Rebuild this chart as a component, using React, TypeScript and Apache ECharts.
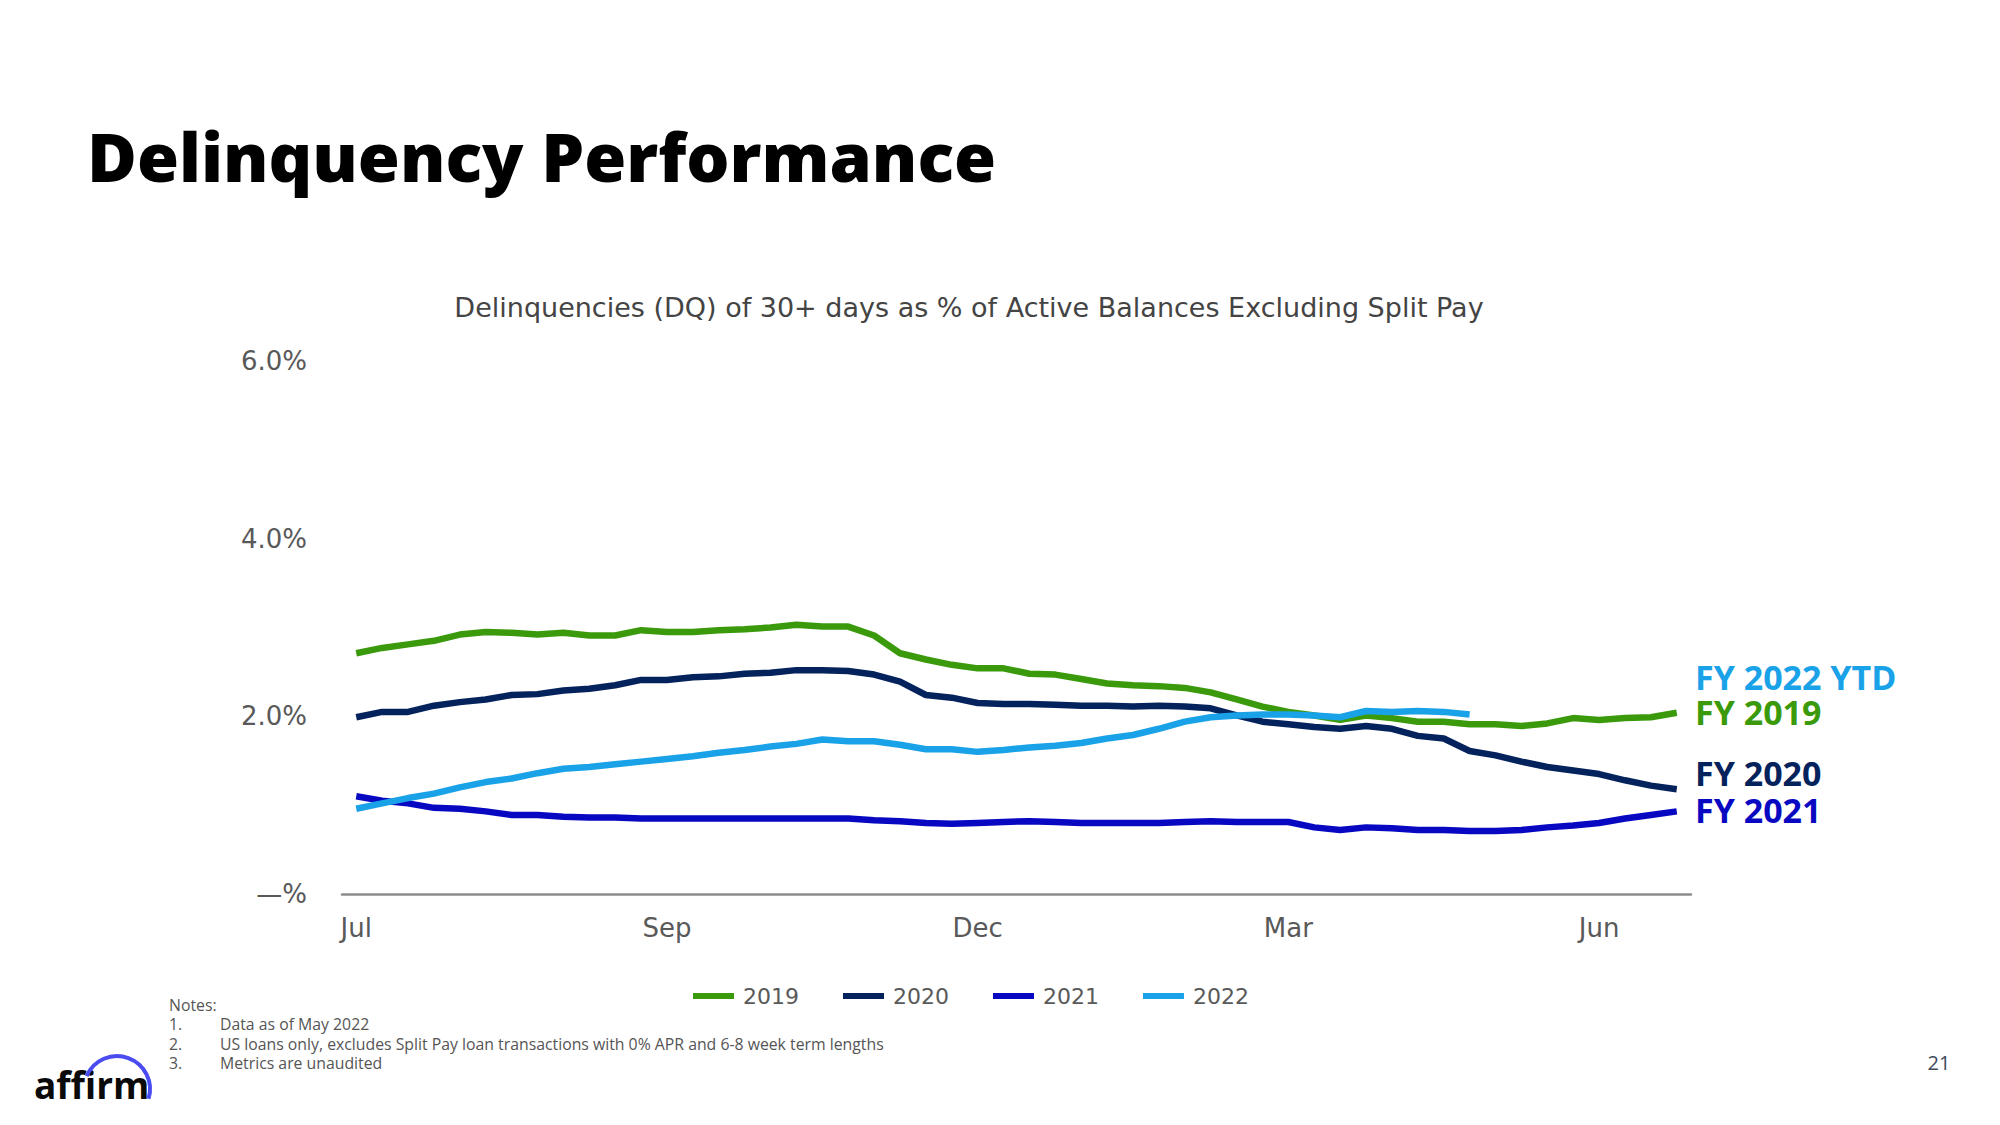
import React, { useEffect, useRef } from 'react';
import * as echarts from 'echarts';

const tickLabels = ['Jul', 'Sep', 'Dec', 'Mar', 'Jun'];
const tickIndices = [0, 12, 24, 36, 48];

const fy2019 = [2.71, 2.77, 2.81, 2.85, 2.92, 2.95, 2.94, 2.92, 2.94, 2.91, 2.91, 2.97, 2.95, 2.95, 2.97, 2.98, 3.0, 3.03, 3.01, 3.01, 2.91, 2.71, 2.64, 2.58, 2.54, 2.54, 2.48, 2.47, 2.42, 2.37, 2.35, 2.34, 2.32, 2.27, 2.19, 2.11, 2.05, 2.01, 1.96, 2.01, 1.98, 1.94, 1.94, 1.91, 1.91, 1.89, 1.92, 1.98, 1.96, 1.98, 1.99, 2.04];
const fy2020 = [1.99, 2.05, 2.05, 2.12, 2.16, 2.19, 2.24, 2.25, 2.29, 2.31, 2.35, 2.41, 2.41, 2.44, 2.45, 2.48, 2.49, 2.52, 2.52, 2.51, 2.47, 2.39, 2.24, 2.21, 2.15, 2.14, 2.14, 2.13, 2.12, 2.12, 2.11, 2.12, 2.11, 2.09, 2.01, 1.94, 1.91, 1.88, 1.86, 1.89, 1.86, 1.78, 1.75, 1.61, 1.56, 1.49, 1.43, 1.39, 1.35, 1.28, 1.22, 1.18];
const fy2021 = [1.1, 1.05, 1.02, 0.97, 0.96, 0.93, 0.89, 0.89, 0.87, 0.86, 0.86, 0.85, 0.85, 0.85, 0.85, 0.85, 0.85, 0.85, 0.85, 0.85, 0.83, 0.82, 0.8, 0.79, 0.8, 0.81, 0.82, 0.81, 0.8, 0.8, 0.8, 0.8, 0.81, 0.82, 0.81, 0.81, 0.81, 0.75, 0.72, 0.75, 0.74, 0.72, 0.72, 0.71, 0.71, 0.72, 0.75, 0.77, 0.8, 0.85, 0.89, 0.93];
const fy2022 = [0.96, 1.02, 1.08, 1.13, 1.2, 1.26, 1.3, 1.36, 1.41, 1.43, 1.46, 1.49, 1.52, 1.55, 1.59, 1.62, 1.66, 1.69, 1.74, 1.72, 1.72, 1.68, 1.63, 1.63, 1.6, 1.62, 1.65, 1.67, 1.7, 1.75, 1.79, 1.86, 1.94, 1.99, 2.01, 2.02, 2.02, 2.01, 1.99, 2.06, 2.05, 2.06, 2.05, 2.02];

const seriesNames = ['2019', '2020', '2021', '2022'];
const seriesValues = [fy2019, fy2020, fy2021, fy2022];
const colors = ['#3a9a0c', '#04225c', '#0808c2', '#1aa2e8'];

const endLabels = ['FY 2022 YTD', 'FY 2019', 'FY 2020', 'FY 2021'];
const endLabelColors = ['#1aa2e8', '#3a9a0c', '#04225c', '#0808c2'];
const endLabelY = [677, 712, 773, 810];

const titleText = 'Delinquency Performance';
const subtitleText = 'Delinquencies (DQ) of 30+ days as % of Active Balances Excluding Split Pay';
const notesHeader = 'Notes:';
const notes = [
  'Data as of May 2022',
  'US loans only, excludes Split Pay loan transactions with 0% APR and 6-8 week term lengths',
  'Metrics are unaudited',
];
const pageNumber = '21';

export default function App() {
  const ref = useRef<HTMLDivElement>(null);
  useEffect(() => {
    if (!ref.current) return;
    const chart = echarts.init(ref.current, undefined, { renderer: 'svg' });
    const graphics: any[] = [
      {
        type: 'text',
        left: 87,
        top: 121,
        style: { text: titleText, font: '800 68px "Open Sans"', fill: '#000' },
      },
      {
        type: 'text',
        x: 969,
        y: 307,
        style: {
          text: subtitleText,
          font: '27px "DejaVu Sans"',
          fill: '#444',
          textAlign: 'center',
          textVerticalAlign: 'middle',
        },
      },
      ...endLabels.map((t, i) => ({
        type: 'text',
        x: 1695,
        y: endLabelY[i],
        style: {
          text: t,
          font: 'bold 34px "Open Sans"',
          lineHeight: 32,
          fill: endLabelColors[i],
          textAlign: 'left',
          textVerticalAlign: 'middle',
        },
      })),
      {
        type: 'text',
        x: 169,
        y: 1005,
        style: { text: notesHeader, font: '15.8px "Open Sans"', fill: '#555', textVerticalAlign: 'middle' },
      },
      ...notes.flatMap((t, i) => [
        {
          type: 'text',
          x: 169,
          y: 1024 + i * 19.5,
          style: { text: `${i + 1}.`, font: '15.8px "Open Sans"', fill: '#555', textVerticalAlign: 'middle' },
        },
        {
          type: 'text',
          x: 220,
          y: 1024 + i * 19.5,
          style: { text: t, font: '15.8px "Open Sans"', fill: '#555', textVerticalAlign: 'middle' },
        },
      ]),
      {
        type: 'text',
        x: 1939,
        y: 1062,
        style: {
          text: pageNumber,
          font: '20px "Open Sans"',
          fill: '#3d4a5c',
          textAlign: 'center',
          textVerticalAlign: 'middle',
        },
      },
      {
        type: 'text',
        x: 34,
        y: 1103,
        style: {
          text: 'affirm',
          font: 'bold 37px "Open Sans"',
          fill: '#0a0a0a',
          textAlign: 'left',
          textVerticalAlign: 'bottom',
        },
      },
      {
        type: 'arc',
        shape: { cx: 117, cy: 1089, r: 33, startAngle: -2.74, endAngle: 0.3, clockwise: true },
        style: { stroke: '#4a4cf0', lineWidth: 4, fill: 'none' },
      },
    ];

    chart.setOption({
      animation: false,
      backgroundColor: '#ffffff',
      grid: { left: 342, right: 309, top: 361, bottom: 231 },
      legend: {
        data: seriesNames,
        icon: 'rect',
        itemWidth: 41,
        itemHeight: 6,
        itemGap: 44,
        left: 688,
        top: 980,
        textStyle: { fontFamily: 'DejaVu Sans', fontSize: 22, color: '#595959', padding: [0, 0, 0, 4] },
      },
      xAxis: {
        type: 'value',
        min: -0.55,
        max: 51.55,
        axisLine: { show: true, lineStyle: { color: '#8c8c8c', width: 2.5 } },
        axisTick: { show: false },
        splitLine: { show: false },
        axisLabel: {
          customValues: tickIndices,
          formatter: (v: number) => {
            const k = tickIndices.indexOf(Math.round(v));
            return k >= 0 ? tickLabels[k] : '';
          },
          fontFamily: 'DejaVu Sans',
          fontSize: 26,
          color: '#595959',
          margin: 21,
        },
      },
      yAxis: {
        type: 'value',
        min: 0,
        max: 6,
        interval: 2,
        axisLine: { show: false },
        axisTick: { show: false },
        splitLine: { show: false },
        axisLabel: {
          formatter: (v: number) => (v === 0 ? '—%' : v.toFixed(1) + '%'),
          fontFamily: 'DejaVu Sans',
          fontSize: 26,
          color: '#595959',
          margin: 35,
        },
      },
      series: seriesNames.map((name, k) => ({
        type: 'line',
        name,
        data: seriesValues[k].map((v, i) => [i, v]),
        symbol: 'none',
        showSymbol: false,
        lineStyle: { width: 6.5, color: colors[k] },
        itemStyle: { color: colors[k] },
      })),
      graphic: graphics,
    });
    return () => chart.dispose();
  }, []);
  return <div ref={ref} style={{ position: 'absolute', left: 0, top: 0, width: 2000, height: 1125 }} />;
}
